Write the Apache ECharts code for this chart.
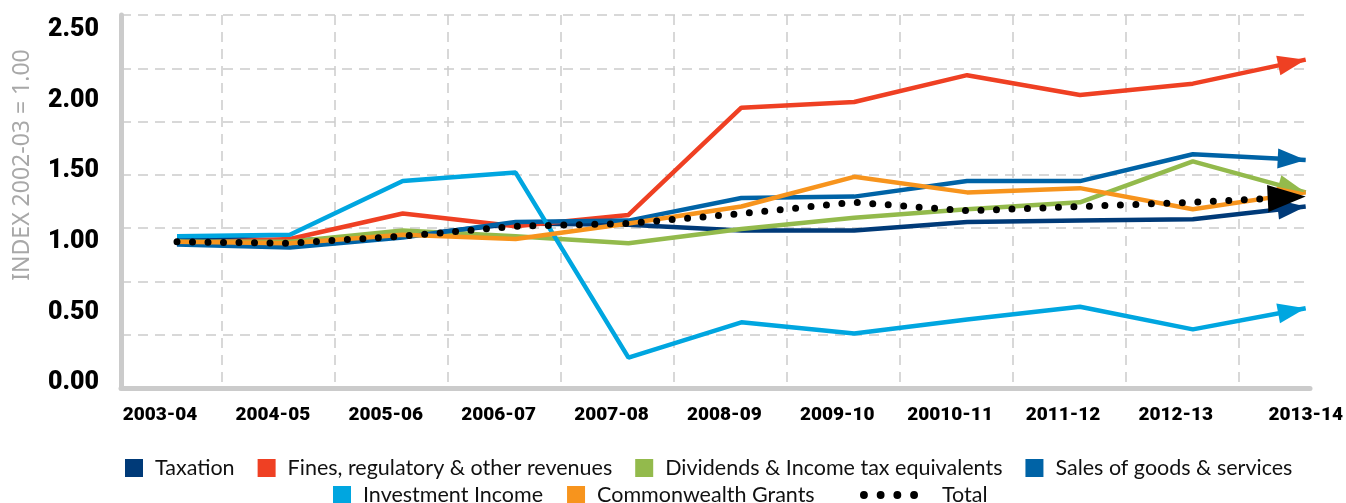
<!DOCTYPE html>
<html>
<head>
<meta charset="utf-8">
<script src="https://cdn.jsdelivr.net/npm/echarts@6/dist/echarts.min.js"></script>
<style>
  html, body { margin: 0; padding: 0; background: #fff; }
  #chart { width: 1346px; height: 503px; }
</style>
</head>
<body>
<div id="chart"></div>
<script>
const categories = ['2003-04', '2004-05', '2005-06', '2006-07', '2007-08', '2008-09',
  '2009-10', '20010-11', '2011-12', '2012-13', '2013-14'];
const yTicks = [0, 0.5, 1, 1.5, 2, 2.5];

const taxation     = [1.03, 1.01, 1.04, 1.13, 1.12, 1.08, 1.08, 1.14, 1.15, 1.16, 1.25];
const fines        = [0.99, 1.02, 1.20, 1.11, 1.19, 1.95, 1.99, 2.18, 2.04, 2.12, 2.29];
const dividends    = [1.00, 1.00, 1.08, 1.04, 0.99, 1.09, 1.17, 1.23, 1.28, 1.57, 1.35];
const sales        = [0.98, 0.96, 1.03, 1.14, 1.15, 1.31, 1.32, 1.43, 1.43, 1.62, 1.58];
const investment   = [1.04, 1.05, 1.43, 1.49, 0.18, 0.43, 0.35, 0.45, 0.54, 0.38, 0.53];
const commonwealth = [1.00, 0.99, 1.05, 1.02, 1.13, 1.25, 1.46, 1.35, 1.38, 1.23, 1.35];
const total        = [1.00, 0.99, 1.04, 1.11, 1.13, 1.20, 1.28, 1.22, 1.25, 1.28, 1.32];

const chart = echarts.init(document.getElementById('chart'));

const gridColor = '#cbcbcb';
const labelFont = 'Roboto';

// arrow head on the last segment of each line, tip on the last point
function arrow(values, size) {
  const n = values.length;
  return {
    silent: true,
    symbol: ['none', 'triangle'],
    symbolSize: size,
    symbolOffset: [0, [0, size[1] / 2]],
    label: { show: false },
    lineStyle: { width: 0, type: 'solid' },
    data: [[
      { coord: [categories[n - 2], values[n - 2]] },
      { coord: [categories[n - 1], values[n - 1]] }
    ]]
  };
}

function lineSeries(name, values, color) {
  return {
    name: name,
    type: 'line',
    xAxisIndex: 2,
    yAxisIndex: 2,
    data: values,
    symbol: 'none',
    lineStyle: { color: color, width: 4.5 },
    itemStyle: { color: color },
    markLine: arrow(values, [20, 28]),
    emphasis: { disabled: true }
  };
}

const s = [
  lineSeries('Taxation', taxation, '#003a78'),
  lineSeries('Fines, regulatory & other revenues', fines, '#ef4023'),
  lineSeries('Dividends & Income tax equivalents', dividends, '#93ba4c'),
  lineSeries('Sales of goods & services', sales, '#0063a6'),
  lineSeries('Investment Income', investment, '#00a6e0'),
  lineSeries('Commonwealth Grants', commonwealth, '#f7941d'),
  {
    name: 'Total',
    type: 'line',
    xAxisIndex: 2,
    yAxisIndex: 2,
    data: total,
    symbol: 'none',
    lineStyle: { color: '#000', width: 7, type: [0, 15.5], cap: 'round' },
    itemStyle: { color: '#000' },
    markLine: arrow(total, [27, 38]),
    emphasis: { disabled: true },
    z: 5
  }
];

const legendText = { fontFamily: 'Lato', fontSize: 21.5, color: '#111', padding: [0, 0, 0, 7] };
const dotsIcon = 'path://M0,4a4,4 0 1,0 8,0a4,4 0 1,0 -8,0M17,4a4,4 0 1,0 8,0a4,4 0 1,0 -8,0' +
  'M34,4a4,4 0 1,0 8,0a4,4 0 1,0 -8,0M51,4a4,4 0 1,0 8,0a4,4 0 1,0 -8,0';

const option = {
  animation: false,
  backgroundColor: '#fff',
  grid: [
    { left: 121, right: 36, top: 15, bottom: 115 },   // frame + horizontal dashes
    { left: 222, right: 107, top: 15, bottom: 115 },  // vertical dashes
    { left: 177, right: 39, top: 30, bottom: 120 }    // data
  ],
  xAxis: [
    {
      gridIndex: 0, type: 'value', min: 0, max: 1,
      axisLine: { show: true, lineStyle: { color: gridColor, width: 5 } },
      axisTick: { show: false }, axisLabel: { show: false }, splitLine: { show: false }
    },
    {
      gridIndex: 1, type: 'value', min: 0, max: 9, interval: 1,
      axisLine: { show: false }, axisTick: { show: false }, axisLabel: { show: false },
      splitLine: { show: true, lineStyle: { color: gridColor, width: 1.5, type: [10, 7] } }
    },
    {
      gridIndex: 2, type: 'category', data: categories, boundaryGap: false,
      axisLine: { show: false }, axisTick: { show: false },
      axisLabel: {
        interval: 0,
        margin: 23,
        formatter: function (v, i) {
          return i === categories.length - 1 ? '{l|' + v + '}' : '{n|' + v + '}';
        },
        rich: {
          n: { fontFamily: labelFont, fontWeight: 900, fontSize: 19, color: '#000', padding: [0, 34, 0, 0] },
          l: { fontFamily: labelFont, fontWeight: 900, fontSize: 19, color: '#000', padding: [0, 0, 0, 0] }
        }
      },
      splitLine: { show: false }
    }
  ],
  yAxis: [
    {
      gridIndex: 0, type: 'value', min: 0, max: 7, interval: 1,
      axisLine: { show: true, lineStyle: { color: gridColor, width: 5 } },
      axisTick: { show: false }, axisLabel: { show: false },
      splitLine: { show: true, lineStyle: { color: gridColor, width: 1.5, type: [10, 7] } }
    },
    {
      gridIndex: 1, type: 'value', min: 0, max: 1, show: false
    },
    {
      gridIndex: 2, type: 'value', min: yTicks[0], max: yTicks[yTicks.length - 1], interval: 0.5,
      axisLine: { show: false }, axisTick: { show: false }, splitLine: { show: false },
      axisLabel: {
        margin: 78,
        formatter: function (v) { return v.toFixed(2); },
        fontFamily: labelFont, fontWeight: 900, fontSize: 25, color: '#000'
      }
    }
  ],
  legend: [
    {
      left: 125, top: 457, padding: 0, itemGap: 23, itemWidth: 18, itemHeight: 18,
      icon: 'rect', textStyle: legendText, selectedMode: false,
      data: ['Taxation', 'Fines, regulatory & other revenues',
        'Dividends & Income tax equivalents', 'Sales of goods & services']
    },
    {
      left: 333, top: 484, padding: 0, itemGap: 24, itemWidth: 18, itemHeight: 18,
      icon: 'rect', textStyle: legendText, selectedMode: false,
      data: ['Investment Income', 'Commonwealth Grants']
    },
    {
      left: 860, top: 484, padding: 0, itemWidth: 58, itemHeight: 8,
      textStyle: Object.assign({}, legendText, { padding: [0, 0, 0, 19] }), selectedMode: false,
      data: [{ name: 'Total', icon: dotsIcon }]
    }
  ],
  graphic: [{
    type: 'text',
    x: 22, y: 165,
    rotation: Math.PI / 2,
    style: {
      text: 'INDEX 2002-03 = 1.00',
      fontFamily: 'Noto Sans', fontSize: 23, fill: '#a8a8a8',
      align: 'center', verticalAlign: 'middle'
    }
  }],
  series: s
};

chart.setOption(option);
</script>
</body>
</html>
